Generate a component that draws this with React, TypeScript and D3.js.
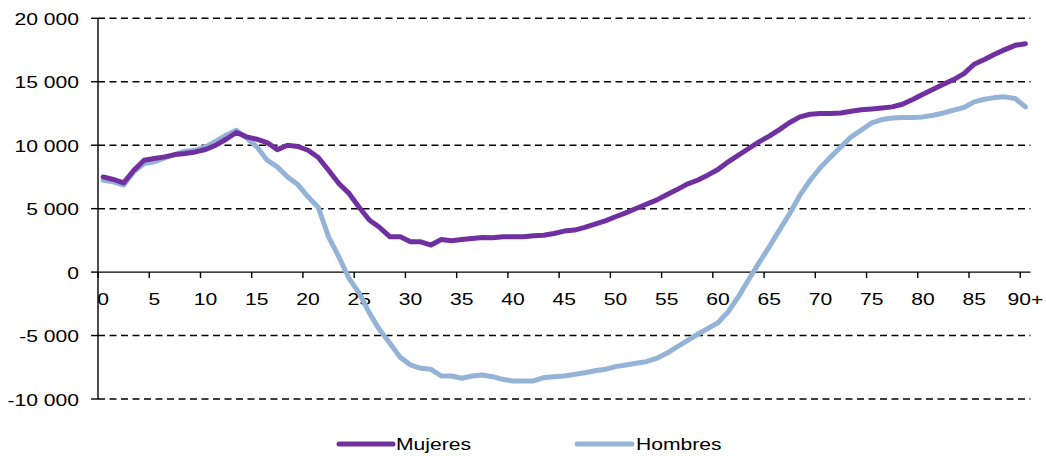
import React from "react";
import * as d3 from "d3";

const ages: number[] = d3.range(0, 91);
const tickAges: number[] = [0, 5, 10, 15, 20, 25, 30, 35, 40, 45, 50, 55, 60, 65, 70, 75, 80, 85, 90];
const tickLabels: string[] = ["0", "5", "10", "15", "20", "25", "30", "35", "40", "45", "50", "55", "60", "65", "70", "75", "80", "85", "90+"];
const yTicks: number[] = [20000, 15000, 10000, 5000, 0, -5000, -10000];
const yTickLabels: string[] = ["20 000", "15 000", "10 000", "5 000", "0", "-5 000", "-10 000"];

const mujeres: number[] = [
  7500, 7300, 7030, 8030, 8820, 8950, 9080, 9260, 9340, 9470,
  9660, 10000, 10470, 11000, 10660, 10470, 10210, 9650, 10000, 9900,
  9600, 9030, 8030, 6980, 6200, 5090, 4090, 3510, 2780, 2780,
  2390, 2390, 2130, 2570, 2470, 2570, 2650, 2730, 2700, 2780,
  2780, 2780, 2860, 2910, 3040, 3230, 3310, 3520, 3780, 4040,
  4360, 4670, 5010, 5350, 5670, 6100, 6500, 6930, 7240, 7640,
  8080, 8690, 9210, 9740, 10260, 10710, 11230, 11790, 12230, 12440,
  12490, 12490, 12540, 12680, 12790, 12860, 12940, 13020, 13230, 13600,
  14020, 14410, 14800, 15170, 15640, 16380, 16750, 17170, 17530, 17870,
  18000,
];

const hombres: number[] = [
  7240, 7110, 6850, 7900, 8550, 8690, 9000, 9260, 9530, 9600,
  9870, 10310, 10790, 11180, 10580, 9870, 8820, 8290, 7500, 6900,
  5930, 5090, 2780, 1210, -500, -1680, -3250, -4570, -5620, -6720,
  -7320, -7580, -7660, -8190, -8190, -8370, -8190, -8110, -8240, -8450,
  -8580, -8580, -8580, -8320, -8240, -8190, -8060, -7930, -7770, -7660,
  -7450, -7320, -7190, -7060, -6800, -6400, -5900, -5400, -4900, -4450,
  -3990, -3120, -1940, -580, 730, 1990, 3310, 4620, 6060, 7240,
  8240, 9080, 9870, 10660, 11200, 11760, 12020, 12150, 12180, 12180,
  12230, 12360, 12540, 12760, 12970, 13410, 13620, 13750, 13810, 13680,
  13020,
];

const seriesNames: string[] = ["Mujeres", "Hombres"];
const seriesColors: string[] = ["#7030A0", "#95B3D7"];

const W = 1046;
const H = 456;
const FONT = "'Liberation Sans', Arial, sans-serif";
const SX = 1.32;

function Label({ x, y, anchor, children }: { x: number; y: number; anchor: string; children: React.ReactNode }) {
  return (
    <text
      transform={`translate(${x},${y}) scale(${SX},1)`}
      textAnchor={anchor}
      fontFamily={FONT}
      fontSize={16}
      fill="#000"
    >
      {children}
    </text>
  );
}

export default function App() {
  const left = 98;
  const right = 1030.5;
  const x = d3.scaleBand<number>().domain(ages).range([left, right]).paddingInner(0).paddingOuter(0);
  const y = d3.scaleLinear().domain([-10000, 20000]).range([399, 18.3]);
  const cx = (a: number) => (x(a) as number) + x.bandwidth() / 2;

  const line = d3
    .line<number>()
    .x((_, i) => cx(ages[i]))
    .y((d) => y(d));

  const series = [mujeres, hombres];

  return (
    <svg
      width={W}
      height={H}
      style={{ position: "absolute", left: 0, top: 0, background: "#fff" }}
    >
      {/* gridlines */}
      {yTicks.filter((t) => t !== 0).map((t) => (
        <line
          key={"g" + t}
          x1={left}
          x2={right}
          y1={y(t)}
          y2={y(t)}
          stroke="#000"
          strokeWidth={1.5}
          strokeDasharray="7,4.5"
        />
      ))}
      {/* y axis */}
      <line x1={left} x2={left} y1={y(20000)} y2={y(-10000)} stroke="#000" strokeWidth={1.4} />
      {yTicks.map((t, i) => (
        <g key={"yt" + t}>
          <line x1={left - 7} x2={left} y1={y(t)} y2={y(t)} stroke="#000" strokeWidth={1.4} />
          <Label x={79} y={y(t) + 6.5} anchor="end">
            {yTickLabels[i]}
          </Label>
        </g>
      ))}
      {/* x axis */}
      <line x1={left} x2={right} y1={y(0)} y2={y(0)} stroke="#000" strokeWidth={1.4} />
      {tickAges.map((a, i) => (
        <g key={"xt" + a}>
          <line
            x1={x(a) as number}
            x2={x(a) as number}
            y1={y(0)}
            y2={y(0) + 6}
            stroke="#000"
            strokeWidth={1.4}
          />
          <Label x={cx(a)} y={305} anchor="middle">
            {tickLabels[i]}
          </Label>
        </g>
      ))}
      {/* lines */}
      {[1, 0].map((si) => (
        <path
          key={"s" + si}
          d={line(series[si]) || ""}
          fill="none"
          stroke={seriesColors[si]}
          strokeWidth={5}
          strokeLinejoin="round"
          strokeLinecap="round"
        />
      ))}
      {/* legend */}
      <line x1={339} x2={393} y1={444} y2={444} stroke={seriesColors[0]} strokeWidth={5} strokeLinecap="round" />
      <Label x={396} y={450} anchor="start">
        {seriesNames[0]}
      </Label>
      <line x1={577} x2={632} y1={444} y2={444} stroke={seriesColors[1]} strokeWidth={5} strokeLinecap="round" />
      <Label x={636} y={450} anchor="start">
        {seriesNames[1]}
      </Label>
    </svg>
  );
}
